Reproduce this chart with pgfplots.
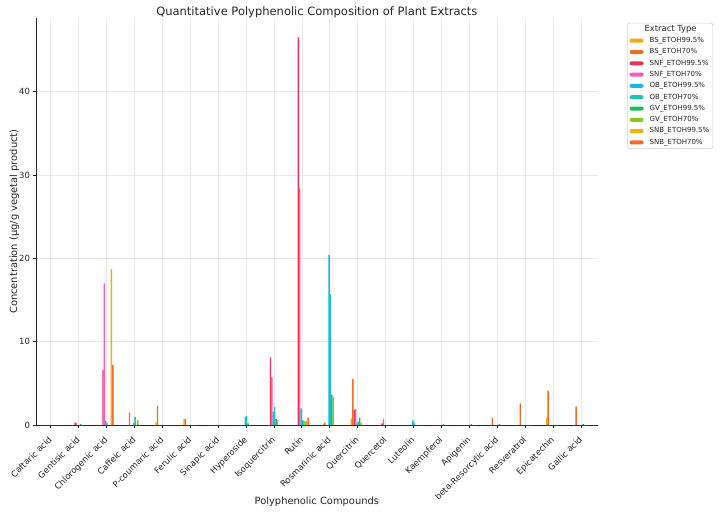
\documentclass[border=0pt]{standalone}
\usepackage{pgfplots}
\usepackage{pgfplotstable}
\pgfplotsset{compat=1.18}
\usepackage{fontspec}
\setmainfont{DejaVu Sans}

\definecolor{bsA}{HTML}{F7A80F}
\definecolor{bsB}{HTML}{F26B1F}
\definecolor{snfA}{HTML}{EE3153}
\definecolor{snfB}{HTML}{F25EBE}
\definecolor{obA}{HTML}{19B4EA}
\definecolor{obB}{HTML}{1CC5C0}
\definecolor{gvA}{HTML}{19BA5A}
\definecolor{gvB}{HTML}{8DC71E}
\definecolor{snbA}{HTML}{F9AE10}
\definecolor{snbB}{HTML}{F26B1F}
\definecolor{txt}{HTML}{262626}

\pgfplotstableread{
x  bsA  bsB  snfA snfB obA  obB  gvA  gvB  snbA snbB
0  0    0    0    0    0    0    0    0    0    0
1  0    0    0.3  0.25 0    0    0.1  0    0    0
2  0    0    6.6  17.0 0.5  0.2  0    0    18.7 7.2
3  0    1.5  0    0    0.3  1.0  0    0.6  0    0
4  0.3  2.3  0    0    0    0    0    0    0    0
5  0.7  0.7  0    0    0    0    0    0    0    0
6  0    0    0    0    0    0    0    0    0    0
7  0    0    0    0    1.0  1.1  0.2  0    0    0
8  0    0    8.1  5.7  1.6  2.2  0.7  0.6  0    0
9  0    0    46.5 28.4 2.0  0.6  0.5  0.4  0.5  0.9
10 0.1  0.3  0    0    20.4 15.7 3.6  3.3  0    0
11 0.8  5.5  1.8  1.9  0.3  0.4  0.9  0.3  0    0
12 0    0    0.2  0.7  0    0    0    0    0    0
13 0    0    0    0    0.55 0.3  0    0    0    0
14 0    0    0    0    0    0    0.1  0    0    0
15 0    0    0    0    0    0    0.1  0    0    0
16 0    0.85 0    0    0    0    0.1  0    0    0
17 0    2.6  0    0    0    0    0    0    0    0
18 0.9  4.1  0    0    0    0    0    0    0    0
19 0    2.2  0    0    0    0    0.1  0    0    0
}\datatable

\begin{document}
\begin{tikzpicture}
\begin{axis}[
  scale only axis,
  width=561.7pt, height=406.7pt,
  xmin=-0.527, xmax=19.6,
  ymin=0, ymax=48.8,
  axis x line*=bottom, axis y line*=left,
  axis line style={draw=txt, line width=0.8pt, -},
  xtick={0,...,19},
  xticklabels={Caftaric acid,Gentisic acid,Chlorogenic acid,Caffeic acid,P-coumaric acid,Ferulic acid,Sinapic acid,Hyperoside,Isoquercitrin,Rutin,Rosmarinic acid,Quercitrin,Quercetol,Luteolin,Kaempferol,Apigenin,beta-Resorcylic acid,Resveratrol,Epicatechin,Gallic acid},
  ytick={0,10,20,30,40},
  tick align=outside,
  major tick length=3pt,
  tick style={draw=txt, line width=0.8pt},
  grid=major,
  major grid style={draw=black!9, line width=0.6pt},
  /pgf/number format/assume math mode=true,
  ticklabel style={font=\fontsize{8.5}{10}\selectfont, text=txt},
  xticklabel style={rotate=45, anchor=north east, xshift=-4pt, yshift=0pt},
  yticklabel style={xshift=0.5pt},
  title={Quantitative Polyphenolic Composition of Plant Extracts},
  title style={font=\fontsize{11.5}{13}\selectfont, text=txt, at={(axis description cs:0.5,1.001)}, anchor=center},
  xlabel={Polyphenolic Compounds},
  xlabel style={font=\fontsize{9.9}{11}\selectfont, text=txt, at={(axis description cs:0.5,-0.1885)}, anchor=center},
  ylabel={Concentration (µg/g vegetal product)},
  ylabel style={font=\fontsize{9.9}{11}\selectfont, text=txt, at={(axis description cs:-0.0386,0.5)}, anchor=center},
  ybar=0pt,
  bar width=0.05,
  every axis plot/.append style={draw=none},
  legend image code/.code={\fill[#1] (0pt,-2pt) rectangle (14pt,2pt);},
  legend cell align=left,
  legend style={at={(1.0527,0.989)}, anchor=north west,
    draw=black!18, line width=0.6pt, rounded corners=2pt, fill=white,
    font=\fontsize{7}{8}\selectfont, text=txt,
    inner sep=2pt, row sep=2.6pt,
    nodes={text height=5.2pt, text depth=1.5pt, inner ysep=1pt, inner xsep=1.5pt},
    /tikz/every odd column/.append style={column sep=4.5pt}},
]
\addlegendimage{empty legend}
\addlegendentry{\makebox[42pt][c]{\fontsize{8.4}{9}\selectfont Extract Type}}
\addplot[fill=bsA, bar shift=-0.225] table[x=x,y=bsA]{\datatable};
\addlegendentry{BS\_ETOH99.5\%}
\addplot[fill=bsB, bar shift=-0.175] table[x=x,y=bsB]{\datatable};
\addlegendentry{BS\_ETOH70\%}
\addplot[fill=snfA, bar shift=-0.125] table[x=x,y=snfA]{\datatable};
\addlegendentry{SNF\_ETOH99.5\%}
\addplot[fill=snfB, bar shift=-0.075] table[x=x,y=snfB]{\datatable};
\addlegendentry{SNF\_ETOH70\%}
\addplot[fill=obA, bar shift=-0.025] table[x=x,y=obA]{\datatable};
\addlegendentry{OB\_ETOH99.5\%}
\addplot[fill=obB, bar shift=0.025] table[x=x,y=obB]{\datatable};
\addlegendentry{OB\_ETOH70\%}
\addplot[fill=gvA, bar shift=0.075] table[x=x,y=gvA]{\datatable};
\addlegendentry{GV\_ETOH99.5\%}
\addplot[fill=gvB, bar shift=0.125] table[x=x,y=gvB]{\datatable};
\addlegendentry{GV\_ETOH70\%}
\addplot[fill=snbA, bar shift=0.175] table[x=x,y=snbA]{\datatable};
\addlegendentry{SNB\_ETOH99.5\%}
\addplot[fill=snbB, bar shift=0.225] table[x=x,y=snbB]{\datatable};
\addlegendentry{SNB\_ETOH70\%}
\end{axis}
\pgfresetboundingbox
\path ([shift={(-36pt,-89pt)}]current axis.south west) rectangle ++(722pt,514pt);
\end{tikzpicture}
\end{document}
